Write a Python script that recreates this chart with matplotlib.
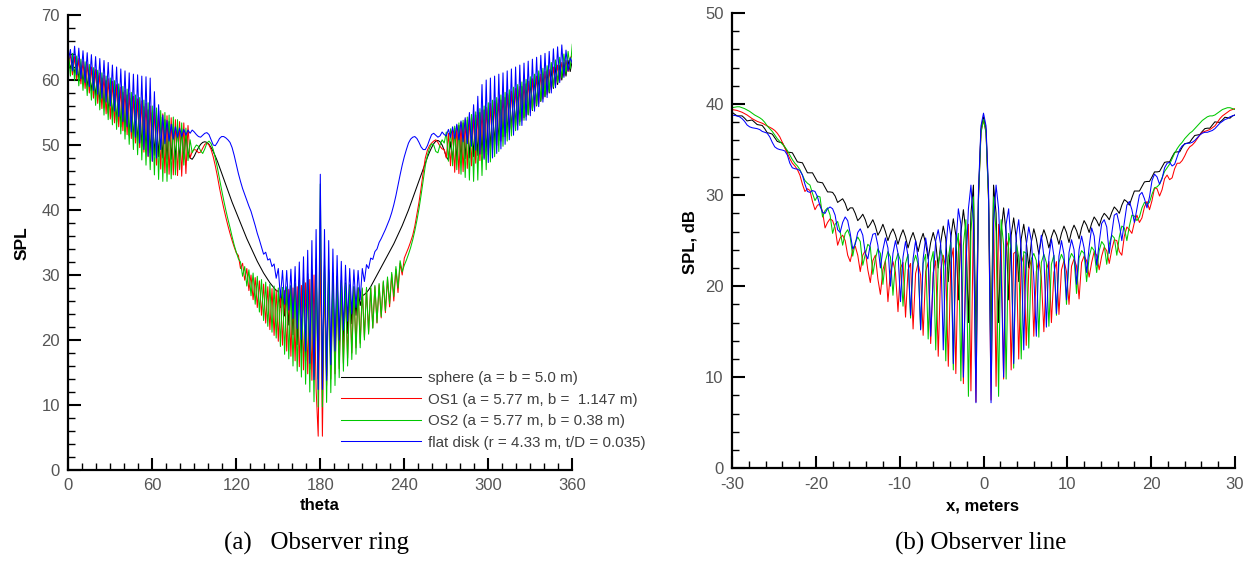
import numpy as np
import matplotlib
matplotlib.use('Agg')
import matplotlib.pyplot as plt
from matplotlib.ticker import MultipleLocator

# ---- (a) observer ring: theta sampled every 1.5 degrees ----
theta = np.linspace(0, 360, 241)

ring_sphere = [
    63.5, 61.7, 63.1, 61.0, 62.7, 60.3, 62.3, 59.7, 61.9, 59.0, 61.5, 58.3, 61.1, 57.5, 60.7, 56.6, 60.3, 55.8, 59.9, 54.9,
    59.5, 54.2, 59.0, 53.5, 58.6, 52.8, 58.1, 52.1, 57.7, 51.4, 57.2, 50.8, 56.8, 50.3, 56.3, 49.8, 55.9, 49.3, 55.4, 48.8,
    55.0, 48.4, 54.6, 48.2, 54.3, 48.0, 53.9, 47.8, 53.6, 47.8, 53.2, 47.7, 52.8, 47.7, 52.5, 47.8, 51.5, 49.0, 48.0, 47.8,
    48.3, 49.0, 49.6, 50.1, 50.4, 50.5, 50.4, 50.1, 49.6, 49.0, 48.3, 47.5, 46.6, 45.7, 44.8, 43.9, 43.0, 42.1, 41.2, 40.4,
    39.6, 38.8, 38.0, 37.2, 36.4, 35.6, 34.9, 34.2, 33.5, 32.8, 32.1, 31.5, 30.9, 30.3, 29.8, 29.3, 28.8, 28.4, 28.0, 27.6,
    27.5, 25.0, 27.8, 23.7, 28.0, 22.3, 28.3, 20.8, 28.7, 19.3, 29.2, 18.0, 29.6, 16.8, 30.2, 15.5, 30.8, 14.4, 31.5, 14.0,
    36.0, 14.0, 31.5, 14.5, 30.8, 15.5, 30.3, 16.8, 29.8, 18.0, 29.2, 19.5, 28.8, 21.0, 28.5, 22.5, 28.2, 23.8, 28.0, 25.3,
    26.8, 27.0, 27.3, 27.7, 28.2, 28.8, 29.4, 30.0, 30.6, 31.2, 31.8, 32.4, 33.0, 33.6, 34.2, 34.8, 35.5, 36.2, 36.9, 37.6,
    38.4, 39.2, 40.0, 40.9, 41.8, 42.7, 43.6, 44.5, 45.4, 46.3, 47.2, 48.1, 48.9, 49.6, 50.2, 50.6, 50.7, 50.5, 50.0, 49.2,
    48.2, 47.7, 50.5, 47.6, 52.6, 47.7, 53.0, 47.8, 53.4, 47.9, 53.8, 48.0, 54.2, 48.2, 54.6, 48.4, 55.0, 48.6, 55.4, 48.9,
    55.6, 49.5, 56.0, 50.1, 56.4, 50.7, 56.9, 51.3, 57.3, 51.9, 57.7, 52.4, 58.1, 53.0, 58.5, 53.6, 59.0, 54.2, 59.4, 54.7,
    59.8, 55.3, 60.2, 56.0, 60.5, 56.7, 60.9, 57.4, 61.3, 58.0, 61.6, 58.7, 62.0, 59.3, 62.3, 60.0, 62.7, 60.6, 63.0, 61.3,
    63.0]

ring_os1 = [
    62.5, 63.9, 60.8, 63.6, 60.1, 63.3, 59.4, 62.9, 58.7, 62.5, 58.0, 62.0, 57.2, 61.6, 56.4, 61.1, 55.6, 60.7, 54.8, 60.2,
    54.0, 59.8, 53.4, 59.3, 52.8, 58.9, 52.2, 58.4, 51.6, 58.0, 51.0, 57.5, 50.3, 57.1, 49.6, 56.8, 48.9, 56.4, 48.2, 56.0,
    47.5, 55.6, 46.9, 55.2, 46.3, 54.8, 45.7, 54.5, 45.5, 54.2, 45.4, 53.9, 45.3, 53.6, 45.2, 53.4, 45.6, 53.0, 48.0, 49.0,
    49.3, 49.2, 48.8, 48.9, 49.5, 50.1, 50.3, 50.0, 49.3, 48.2, 46.8, 45.2, 43.4, 41.8, 40.3, 38.9, 37.6, 36.4, 35.3, 34.3,
    33.4, 33.0, 31.0, 31.8, 29.2, 31.0, 27.6, 30.0, 26.2, 29.6, 25.0, 29.1, 23.8, 28.6, 22.6, 28.2, 21.6, 27.9, 20.7, 27.7,
    19.8, 27.5, 19.2, 27.6, 18.3, 27.8, 17.5, 28.0, 16.8, 28.2, 15.9, 28.4, 15.4, 28.8, 14.8, 29.3, 13.8, 30.0, 12.5, 5.2,
    35.0, 5.2, 30.2, 13.0, 29.4, 14.0, 28.9, 14.8, 28.6, 15.6, 28.4, 16.4, 28.2, 17.2, 28.0, 18.0, 27.9, 18.8, 27.8, 19.5,
    27.8, 20.4, 27.9, 21.2, 28.0, 21.9, 28.2, 22.6, 28.5, 23.4, 28.9, 24.2, 29.4, 25.1, 30.1, 26.0, 30.9, 27.3, 31.8, 30.0,
    32.6, 33.4, 34.2, 35.1, 36.1, 37.5, 39.4, 41.2, 43.4, 45.8, 48.0, 49.2, 49.9, 50.3, 50.6, 50.8, 50.4, 49.8, 49.4, 49.3,
    48.0, 51.8, 46.8, 52.5, 45.8, 53.0, 45.6, 53.5, 45.9, 53.9, 46.4, 54.3, 46.8, 54.7, 47.2, 55.0, 47.6, 55.4, 48.0, 55.8,
    48.5, 56.4, 49.2, 56.8, 49.9, 57.1, 50.6, 57.5, 51.3, 57.9, 52.0, 58.3, 52.6, 58.7, 53.2, 59.0, 53.8, 59.4, 54.4, 59.8,
    55.0, 60.2, 55.7, 60.6, 56.4, 60.9, 57.1, 61.3, 57.8, 61.6, 58.5, 62.0, 59.2, 62.3, 59.9, 62.7, 60.6, 63.0, 61.3, 63.4,
    63.8]

ring_os2 = [
    64.5, 60.6, 64.1, 59.9, 63.7, 59.1, 63.2, 58.4, 62.8, 57.6, 62.4, 56.9, 61.9, 56.1, 61.5, 55.4, 61.1, 54.6, 60.6, 53.9,
    60.3, 53.1, 59.9, 52.4, 59.4, 51.7, 59.0, 50.9, 58.6, 50.1, 58.1, 49.3, 57.7, 48.5, 57.3, 47.7, 56.9, 46.9, 56.5, 46.2,
    56.0, 45.4, 55.7, 44.7, 55.3, 44.4, 55.0, 44.4, 54.6, 44.8, 54.3, 45.4, 53.9, 46.2, 53.4, 46.9, 52.6, 47.6, 50.8, 48.8,
    49.5, 50.0, 49.8, 49.1, 48.7, 49.4, 50.3, 50.6, 50.2, 49.3, 48.0, 46.5, 44.8, 43.1, 41.5, 40.0, 38.6, 37.3, 35.9, 34.6,
    33.5, 32.5, 32.0, 29.8, 31.3, 28.3, 30.8, 26.8, 30.3, 25.5, 29.8, 24.3, 29.3, 23.0, 28.9, 22.1, 28.6, 21.2, 28.3, 20.3,
    28.0, 19.0, 28.1, 17.8, 28.2, 17.1, 28.4, 16.0, 28.6, 15.2, 28.9, 14.3, 29.2, 13.2, 29.7, 12.0, 30.5, 10.5, 32.5, 9.7,
    44.0, 9.7, 32.5, 10.4, 30.5, 11.9, 29.7, 13.0, 29.2, 14.2, 28.8, 15.2, 28.6, 16.0, 28.4, 17.0, 28.2, 17.8, 28.1, 18.8,
    28.0, 20.0, 28.1, 20.9, 28.2, 21.8, 28.4, 22.7, 28.7, 23.6, 29.1, 24.5, 29.7, 25.6, 30.4, 26.7, 31.3, 28.0, 32.2, 30.5,
    31.5, 32.3, 33.2, 34.2, 35.4, 36.8, 38.4, 40.2, 42.3, 44.6, 46.8, 48.4, 49.5, 50.2, 50.0, 49.0, 48.8, 50.0, 50.8, 50.3,
    52.0, 47.5, 52.5, 46.8, 52.9, 46.2, 53.4, 45.5, 53.8, 45.0, 54.3, 44.6, 54.7, 44.4, 55.1, 44.6, 55.6, 45.3, 56.0, 46.2,
    56.5, 47.4, 56.9, 48.2, 57.3, 49.0, 57.7, 49.8, 58.1, 50.6, 58.5, 51.4, 58.9, 52.2, 59.3, 53.0, 59.7, 53.8, 60.1, 54.6,
    60.5, 55.4, 60.9, 56.1, 61.4, 56.8, 61.8, 57.5, 62.2, 58.2, 62.7, 58.9, 63.1, 59.6, 63.5, 60.3, 64.0, 61.0, 64.4, 61.7,
    65.5]

ring_disk = [
    63.0, 64.7, 61.4, 65.2, 60.8, 64.9, 60.2, 64.5, 59.6, 64.2, 59.0, 63.9, 58.4, 63.6, 57.8, 63.3, 57.2, 63.0, 56.6, 62.7,
    56.0, 62.3, 55.2, 62.0, 54.4, 61.7, 53.6, 61.4, 52.8, 61.1, 52.0, 60.9, 51.2, 60.8, 50.3, 60.6, 49.3, 60.5, 48.3, 60.3,
    47.5, 58.2, 48.0, 56.2, 49.3, 54.6, 50.2, 53.8, 50.6, 53.2, 50.9, 52.8, 51.2, 52.6, 51.3, 52.4, 51.5, 52.3, 51.8, 52.3,
    52.0, 51.6, 51.3, 51.2, 51.5, 51.8, 51.9, 51.6, 50.8, 50.0, 49.9, 50.4, 51.0, 51.3, 51.3, 51.1, 50.8, 50.4, 49.6, 48.4,
    47.0, 45.6, 44.4, 43.3, 42.4, 41.5, 40.6, 39.8, 38.7, 37.6, 36.4, 35.4, 34.3, 33.2, 33.5, 32.3, 32.5, 31.3, 31.7, 29.5,
    31.0, 26.5, 30.7, 25.5, 30.7, 24.6, 30.9, 23.3, 31.3, 21.8, 32.0, 20.1, 32.8, 18.3, 33.8, 16.4, 35.3, 13.9, 37.0, 12.4,
    45.5, 12.4, 37.0, 13.8, 35.3, 16.2, 34.0, 18.3, 33.0, 20.0, 32.1, 21.5, 31.5, 22.9, 31.0, 24.0, 30.8, 25.0, 30.7, 26.2,
    31.0, 29.0, 31.6, 31.0, 32.6, 32.4, 33.6, 34.0, 35.0, 35.6, 36.3, 37.0, 37.8, 38.6, 39.6, 40.8, 42.2, 43.8, 45.4, 46.9,
    48.2, 49.3, 50.3, 50.9, 51.2, 51.3, 51.0, 50.4, 49.7, 49.3, 49.3, 49.9, 50.8, 51.6, 51.8, 51.5, 51.2, 51.4, 52.0, 51.6,
    51.4, 52.4, 51.2, 52.8, 51.0, 53.2, 50.8, 53.7, 50.5, 54.2, 50.2, 55.0, 49.8, 56.2, 49.2, 57.5, 48.6, 59.3, 47.8, 60.0,
    47.3, 60.3, 48.0, 60.6, 48.7, 60.9, 49.4, 61.1, 50.1, 61.4, 50.8, 61.7, 51.5, 62.0, 52.3, 62.3, 53.0, 62.6, 53.8, 62.9,
    54.5, 63.2, 55.2, 63.5, 55.9, 63.8, 56.6, 64.1, 57.3, 64.4, 58.0, 64.8, 58.8, 65.1, 59.6, 65.4, 60.4, 64.6, 61.4, 63.4,
    62.6]

# ---- (b) observer line: x sampled every 0.3 m ----
x_line = np.linspace(-30, 30, 201)

line_sphere = [
    39.1, 38.9, 38.7, 38.7, 38.7, 38.45, 38.15, 38.2, 38.25, 38.0, 37.75, 37.7, 37.65, 37.3, 36.85, 36.8, 36.7, 36.3, 35.9, 35.8,
    35.75, 35.25, 34.7, 34.7, 34.65, 34.15, 33.65, 33.6, 33.55, 33.0, 32.45, 32.45, 32.45, 31.95, 31.45, 31.4, 31.35, 30.85, 30.35, 30.35,
    30.3, 29.9, 29.2, 29.4, 29.6, 29.1, 28.3, 28.6, 28.6, 28.0, 27.2, 27.5, 27.9, 27.3, 26.4, 26.8, 27.3, 26.6, 25.6, 26.1,
    26.8, 26.0, 25.0, 25.8, 26.3, 25.6, 24.6, 25.5, 26.2, 25.4, 24.2, 25.2, 25.9, 25.0, 23.8, 25.0, 25.8, 24.7, 23.0, 24.8,
    25.9, 24.8, 22.0, 24.8, 26.6, 25.2, 20.5, 25.3, 27.4, 25.6, 18.5, 25.8, 28.4, 26.0, 16.0, 28.0, 31.1, 14.0, 30.0, 37.2,
    38.6, 37.2, 30.0, 14.0, 31.1, 28.0, 16.0, 26.0, 28.6, 25.8, 18.5, 25.6, 27.5, 25.3, 20.5, 25.2, 26.8, 24.9, 22.0, 24.8,
    26.3, 25.2, 23.5, 25.2, 26.2, 25.4, 24.2, 25.4, 26.2, 25.6, 24.6, 25.8, 26.6, 25.9, 24.8, 26.0, 26.7, 26.1, 25.2, 26.4,
    27.2, 26.7, 25.9, 26.9, 27.6, 27.2, 26.6, 27.5, 28.0, 27.7, 27.3, 28.1, 28.7, 28.4, 28.0, 28.9, 29.5, 29.3, 28.9, 29.7,
    30.45, 30.45, 30.45, 30.95, 31.45, 31.5, 31.5, 32.0, 32.55, 32.55, 32.6, 33.1, 33.6, 33.65, 33.65, 34.2, 34.7, 34.75, 34.75, 35.25,
    35.65, 35.7, 35.8, 36.2, 36.55, 36.6, 36.65, 37.0, 37.3, 37.35, 37.35, 37.7, 38.05, 38.0, 38.0, 38.25, 38.55, 38.5, 38.45, 38.7,
    38.8]

line_os1 = [
    39.4, 39.35, 39.3, 39.2, 39.1, 38.95, 38.8, 38.6, 38.4, 38.25, 38.1, 38.0, 37.9, 37.75, 37.6, 37.45, 37.3, 37.1, 36.8, 36.4,
    35.8, 35.2, 34.6, 34.0, 33.5, 33.2, 32.8, 32.2, 31.2, 30.4, 30.7, 30.5, 29.3, 28.4, 28.9, 29.0, 28.2, 26.4, 27.0, 27.4,
    27.2, 26.4, 24.5, 25.3, 25.6, 25.0, 23.4, 22.7, 24.0, 24.4, 23.4, 21.6, 23.4, 23.9, 21.8, 20.4, 22.8, 23.4, 20.8, 19.1,
    21.8, 22.8, 18.3, 21.6, 22.7, 21.5, 17.2, 22.0, 22.6, 16.6, 21.8, 22.5, 15.3, 21.4, 22.5, 21.2, 14.6, 21.6, 22.6, 13.7,
    21.5, 22.8, 12.3, 21.8, 23.4, 22.0, 11.2, 22.6, 24.2, 10.4, 23.8, 25.5, 9.3, 24.5, 26.8, 8.5, 28.0, 7.3, 29.5, 37.0,
    38.2, 37.0, 29.5, 7.5, 28.5, 9.0, 26.8, 25.0, 9.8, 25.2, 24.2, 10.8, 23.6, 23.8, 12.0, 22.5, 23.4, 13.5, 21.8, 22.9,
    14.5, 21.6, 22.8, 21.0, 15.0, 21.8, 22.7, 16.0, 21.5, 22.7, 16.9, 21.8, 22.8, 21.6, 18.0, 22.2, 23.0, 22.2, 18.6, 22.6,
    23.3, 22.8, 21.0, 22.6, 23.8, 23.4, 21.8, 23.3, 24.3, 23.9, 22.5, 24.0, 25.1, 25.0, 23.8, 23.4, 25.5, 26.5, 26.2, 25.8,
    27.0, 27.8, 27.0, 27.5, 28.7, 29.3, 28.4, 29.4, 30.8, 30.7, 29.9, 30.6, 31.8, 32.2, 31.7, 31.9, 32.9, 33.5, 33.5, 33.8,
    34.3, 34.9, 35.3, 35.5, 35.8, 36.2, 36.6, 36.9, 37.0, 37.1, 37.2, 37.4, 37.6, 38.0, 38.4, 38.7, 38.9, 39.1, 39.3, 39.4,
    39.5]

line_os2 = [
    39.6, 39.65, 39.7, 39.7, 39.6, 39.5, 39.35, 39.2, 39.0, 38.8, 38.65, 38.5, 38.3, 38.0, 37.6, 37.3, 37.0, 36.6, 36.2, 35.9,
    35.6, 35.3, 34.9, 34.4, 33.9, 33.5, 33.2, 32.8, 32.2, 31.6, 31.3, 31.1, 30.2, 29.4, 29.9, 29.8, 27.6, 28.3, 28.6, 27.8,
    25.8, 26.8, 27.1, 26.0, 24.5, 25.8, 26.2, 25.4, 23.3, 24.8, 25.4, 24.9, 22.3, 23.5, 24.6, 24.3, 21.3, 23.0, 24.1, 23.6,
    20.2, 22.8, 23.8, 23.2, 19.0, 22.7, 23.6, 22.8, 17.8, 22.5, 23.5, 16.5, 22.4, 23.4, 22.4, 15.3, 22.5, 23.5, 14.2, 22.6,
    23.8, 13.0, 22.6, 24.0, 23.0, 11.8, 23.2, 24.8, 10.8, 24.0, 25.8, 9.6, 24.5, 27.3, 7.9, 26.0, 29.8, 10.5, 29.5, 36.8,
    38.3, 36.8, 29.5, 10.5, 29.8, 26.0, 7.9, 27.3, 24.5, 9.8, 25.8, 24.0, 11.0, 24.8, 23.2, 12.0, 23.8, 23.6, 13.2, 23.0,
    23.6, 22.8, 14.4, 22.6, 23.5, 22.6, 15.6, 22.4, 23.4, 16.8, 22.6, 23.5, 22.8, 18.0, 22.8, 23.6, 23.1, 19.2, 23.1, 23.9,
    23.6, 20.5, 23.2, 24.3, 23.9, 21.5, 23.9, 24.9, 24.5, 22.4, 24.6, 25.6, 25.3, 23.4, 25.4, 26.6, 26.4, 25.0, 26.6, 27.8,
    27.7, 27.2, 27.6, 28.6, 29.2, 29.0, 29.2, 30.1, 30.8, 30.9, 31.2, 31.9, 32.6, 33.0, 33.4, 34.0, 34.6, 35.1, 35.5, 35.8,
    36.2, 36.5, 36.8, 37.0, 37.3, 37.6, 37.9, 38.2, 38.4, 38.6, 38.7, 38.7, 38.8, 39.0, 39.2, 39.4, 39.5, 39.6, 39.6, 39.5,
    39.4]

line_disk = [
    38.8, 38.75, 38.7, 38.6, 38.4, 38.1, 37.7, 37.5, 37.4, 37.35, 37.3, 37.2, 37.0, 36.9, 36.8, 36.4, 35.8, 35.3, 35.1, 35.0,
    34.95, 34.85, 34.4, 33.5, 33.0, 32.9, 32.85, 32.7, 32.2, 31.2, 30.4, 30.3, 30.5, 30.4, 29.8, 28.8, 28.1, 28.0, 28.5, 28.7,
    28.5, 27.8, 26.2, 25.9, 27.0, 27.6, 27.2, 25.8, 24.1, 24.6, 25.9, 26.3, 25.6, 23.6, 23.0, 24.6, 25.7, 25.8, 24.5, 22.0,
    24.0, 25.3, 24.2, 20.0, 23.6, 25.0, 23.6, 18.3, 23.2, 24.9, 23.3, 16.8, 23.0, 25.0, 23.0, 15.2, 23.0, 25.3, 23.5, 14.5,
    21.0, 25.0, 26.2, 24.5, 13.0, 24.0, 27.3, 25.5, 11.5, 24.5, 28.5, 26.8, 10.0, 22.0, 28.5, 31.1, 27.0, 7.2, 30.5, 37.6,
    39.0, 37.6, 30.5, 7.2, 27.0, 31.1, 28.5, 22.0, 10.0, 26.8, 28.5, 24.5, 11.5, 25.5, 27.3, 24.0, 13.0, 24.5, 26.5, 25.0,
    21.0, 14.5, 23.5, 25.6, 23.3, 15.5, 23.2, 25.2, 23.3, 17.0, 23.3, 25.0, 23.5, 18.5, 23.7, 25.1, 24.0, 20.2, 24.0, 25.5,
    24.2, 21.5, 24.3, 26.4, 25.5, 22.3, 24.8, 26.9, 27.3, 26.5, 23.6, 25.8, 27.8, 28.0, 26.8, 25.0, 27.0, 28.9, 29.3, 28.4,
    27.0, 28.5, 30.0, 30.3, 29.6, 28.6, 29.8, 31.6, 32.3, 32.0, 31.2, 31.8, 33.0, 33.5, 33.6, 33.2, 33.4, 34.2, 35.0, 35.4,
    35.6, 35.7, 35.7, 35.8, 36.0, 36.3, 36.6, 36.8, 36.9, 36.9, 37.0, 37.1, 37.3, 37.6, 37.9, 38.1, 38.3, 38.4, 38.6, 38.7,
    38.8]

labels = ['sphere (a = b = 5.0 m)', 'OS1 (a = 5.77 m, b =  1.147 m)',
          'OS2 (a = 5.77 m, b = 0.38 m)', 'flat disk (r = 4.33 m, t/D = 0.035)']
colors = ['black', '#ff0000', '#00c800', '#0000ff']

W, H = 1252, 563


def style_axes(ax):
    for side in ['top', 'right']:
        ax.spines[side].set_visible(False)
    for side in ['left', 'bottom']:
        ax.spines[side].set_linewidth(1.6)
    ax.tick_params(which='major', direction='in', length=9, width=1.5,
                   labelsize=12, labelcolor='#555555', pad=6)
    ax.tick_params(which='minor', direction='in', length=5, width=1.0)


def main():
    plt.rcParams['font.family'] = ['Liberation Sans', 'DejaVu Sans']
    plt.rcParams['axes.unicode_minus'] = False

    fig = plt.figure(figsize=(W / 100, H / 100), dpi=100)
    ax1 = fig.add_axes([68.3 / W, 93 / H, 504 / W, 455 / H])
    ax2 = fig.add_axes([732 / W, 94.7 / H, 503 / W, 455.3 / H])

    # (a) Observer ring
    for series, c, lab in zip([ring_sphere, ring_os1, ring_os2, ring_disk], colors, labels):
        ax1.plot(theta, series, color=c, lw=0.75, label=lab)
    ax1.set_xlim(0, 360)
    ax1.set_ylim(0, 70)
    ax1.xaxis.set_major_locator(MultipleLocator(60))
    ax1.xaxis.set_minor_locator(MultipleLocator(10))
    ax1.yaxis.set_major_locator(MultipleLocator(10))
    ax1.yaxis.set_minor_locator(MultipleLocator(2))
    style_axes(ax1)

    leg = ax1.legend(loc='upper left', bbox_to_anchor=(340.7 / W, 1 - 371 / H),
                     bbox_transform=fig.transFigure, frameon=False,
                     fontsize=10.9, handlelength=5.3, handletextpad=0.48,
                     labelspacing=0.5, borderpad=0, borderaxespad=0)
    for t in leg.get_texts():
        t.set_color('#404040')

    # (b) Observer line
    for series, c in zip([line_sphere, line_os1, line_os2, line_disk], colors):
        ax2.plot(x_line, series, color=c, lw=0.75)
    ax2.set_xlim(-30, 30)
    ax2.set_ylim(0, 50)
    ax2.xaxis.set_major_locator(MultipleLocator(10))
    ax2.xaxis.set_minor_locator(MultipleLocator(2))
    ax2.yaxis.set_major_locator(MultipleLocator(10))
    ax2.yaxis.set_minor_locator(MultipleLocator(2))
    style_axes(ax2)

    # axis titles and captions
    fig.text(22 / W, 1 - 243 / H, 'SPL', rotation=90, ha='center', va='center',
             fontsize=12.5, fontweight='bold')
    fig.text(320 / W, 1 - 506 / H, 'theta', ha='center', va='center',
             fontsize=12, fontweight='bold')
    fig.text(690 / W, 1 - 242 / H, 'SPL, dB', rotation=90, ha='center', va='center',
             fontsize=12, fontweight='bold')
    fig.text(983 / W, 1 - 506 / H, 'x, meters', ha='center', va='center',
             fontsize=12, fontweight='bold')
    fig.text(317 / W, 1 - 543 / H, '(a)   Observer ring', ha='center', va='center',
             fontsize=18, family='Liberation Serif')
    fig.text(981 / W, 1 - 543 / H, '(b) Observer line', ha='center', va='center',
             fontsize=18, family='Liberation Serif')

    fig.savefig('out.png', dpi=100)


if __name__ == '__main__':
    main()
